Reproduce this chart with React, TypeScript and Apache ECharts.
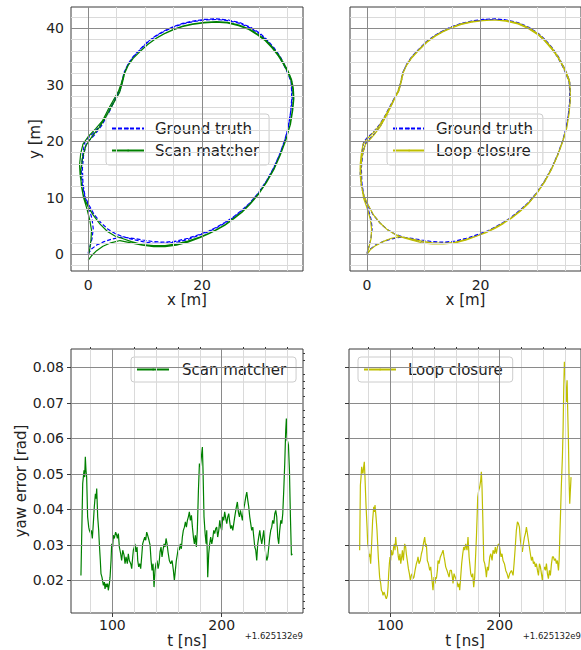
import React, { useEffect, useRef } from "react";
import * as echarts from "echarts";

const FONT = '"DejaVu Sans", sans-serif';

// ---- Trajectories [x (m), y (m)] ----
const groundTruthPath: [number, number][] = [
  [0, 0], [0.6, 0.9], [1.5, 1.6], [2.8, 2.2], [4.3, 2.7], [6.0, 3.0], [7.8, 2.8], [9.6, 2.5], [11.5, 2.2], [13.5, 2.1],
  [15.5, 2.3], [17.5, 2.8], [19.6, 3.5], [21.2, 4.1], [22.6, 4.8], [24.0, 5.6], [25.5, 6.6], [27.0, 7.8], [28.4, 9.1], [29.9, 10.9],
  [31.3, 13.0], [32.5, 15.2], [33.6, 17.7], [34.5, 20.2], [35.1, 22.5], [35.5, 25.0], [35.7, 27.2], [35.7, 29.0], [35.6, 30.5], [35.1, 31.9],
  [34.5, 33.2], [33.6, 34.9], [32.5, 36.5], [31.3, 37.9], [30.1, 39.0], [28.4, 40.1], [26.6, 40.9], [24.5, 41.4], [22.5, 41.6], [20.4, 41.5],
  [18.4, 41.2], [16.6, 40.8], [14.9, 40.2], [13.4, 39.5], [12.0, 38.7], [10.5, 37.6], [9.1, 36.2], [7.9, 34.9], [7.0, 33.6], [6.3, 32.2],
  [5.9, 30.3], [5.5, 29.0], [4.9, 27.8], [4.0, 26.1], [3.0, 24.2], [2.1, 22.8], [1.0, 21.5], [0.0, 20.6], [-0.6, 19.8], [-0.9, 18.0],
  [-1.1, 16.0], [-1.2, 14.2], [-1.0, 12.2], [-0.6, 10.3], [0.2, 8.6], [1.0, 7.1], [2.2, 5.6], [3.5, 4.4], [4.8, 3.6], [6.1, 3.1],
  [7.8, 2.6], [9.6, 2.2], [11.5, 1.9], [13.5, 1.9], [15.5, 2.1], [17.5, 2.6], [19.6, 3.4], [21.2, 4.0], [22.6, 4.7], [24.0, 5.5],
  [25.5, 6.5], [27.0, 7.7], [28.4, 9.0], [29.9, 10.8], [31.3, 12.9], [32.5, 15.1], [33.6, 17.6], [34.5, 20.1], [35.1, 22.4], [35.5, 24.9],
  [35.8, 27.2], [35.8, 29.0], [35.7, 30.6], [35.2, 32.0], [34.6, 33.3], [33.7, 35.0], [32.6, 36.6], [31.4, 38.0], [30.2, 39.1], [28.5, 40.2],
  [26.7, 41.0], [24.6, 41.5], [22.5, 41.7], [20.4, 41.6], [18.4, 41.3], [16.6, 40.9], [14.9, 40.3], [13.4, 39.6], [12.0, 38.8], [10.5, 37.7],
  [9.1, 36.3], [7.9, 35.0], [7.0, 33.7], [6.4, 32.3], [6.0, 30.5], [5.6, 29.0], [4.7, 27.3], [3.6, 25.0], [2.4, 22.8], [1.2, 21.2],
  [-0.3, 19.6], [-0.8, 17.5], [-1.0, 15.2], [-0.9, 12.5], [-0.5, 10.0], [0.2, 8.0], [0.7, 6.2], [0.9, 4.5], [0.7, 2.8], [0.3, 1.2], [0, 0.2],
];

const scanMatcherPath: [number, number][] = [
  [0, -1.1], [0.6, -0.3], [1.5, 0.6], [2.6, 1.4], [4.0, 2.0], [5.6, 2.4], [7.5, 2.0], [9.5, 1.6], [11.5, 1.3], [13.5, 1.3],
  [15.5, 1.6], [17.5, 2.1], [19.6, 2.9], [21.2, 3.6], [22.6, 4.3], [24.0, 5.1], [25.5, 6.2], [27.0, 7.4], [28.4, 8.8], [29.9, 10.6],
  [31.3, 12.7], [32.6, 15.0], [33.7, 17.5], [34.7, 20.2], [35.4, 22.8], [35.8, 25.3], [36.0, 27.5], [35.9, 29.3], [35.6, 30.8], [35.0, 32.3],
  [34.3, 33.6], [33.4, 35.1], [32.3, 36.5], [31.1, 37.8], [29.8, 38.8], [28.2, 39.8], [26.4, 40.5], [24.4, 41.0], [22.4, 41.1], [20.3, 41.0],
  [18.3, 40.7], [16.5, 40.3], [14.8, 39.7], [13.3, 39.0], [11.9, 38.2], [10.4, 37.1], [9.0, 35.8], [7.8, 34.6], [6.9, 33.3], [6.3, 31.9],
  [5.8, 30.2], [5.3, 28.8], [4.5, 27.4], [3.5, 25.6], [2.5, 23.6], [1.3, 22.2], [0.0, 20.8], [-0.9, 19.5], [-1.3, 17.8], [-1.5, 15.8],
  [-1.4, 14.0], [-1.1, 12.0], [-0.8, 10.2], [0.0, 8.4], [0.9, 6.9], [2.1, 5.3], [3.4, 4.0], [4.7, 3.2], [5.9, 2.8],
  [7.6, 2.2], [9.5, 1.7], [11.5, 1.5], [13.5, 1.5], [15.5, 1.8], [17.5, 2.3], [19.6, 3.0], [21.2, 3.7], [22.6, 4.4], [24.0, 5.2],
  [25.5, 6.3], [27.0, 7.5], [28.4, 8.9], [29.9, 10.7], [31.3, 12.8], [32.6, 15.1], [33.7, 17.6], [34.7, 20.3], [35.5, 23.0], [35.9, 25.5],
  [36.1, 27.6], [36.0, 29.4], [35.7, 30.9], [35.1, 32.4], [34.4, 33.7], [33.5, 35.2], [32.4, 36.6], [31.2, 37.9], [29.9, 38.9], [28.3, 39.9],
  [26.5, 40.6], [24.5, 41.1], [22.5, 41.2], [20.4, 41.1], [18.4, 40.8], [16.6, 40.4], [14.9, 39.8], [13.4, 39.1], [12.0, 38.3], [10.5, 37.2],
  [9.1, 35.9], [7.9, 34.7], [7.0, 33.4], [6.4, 32.0], [6.0, 30.3], [5.5, 28.6], [4.3, 26.5], [3.1, 24.3], [2.0, 22.5], [0.8, 21.0],
  [-0.4, 19.2], [-1.0, 17.0], [-1.3, 14.6], [-1.2, 12.2], [-0.8, 10.0], [-0.2, 8.0], [0.3, 6.0], [0.6, 4.2], [0.5, 2.5], [0.3, 1.0], [0.1, 0.0],
];

const loopClosurePath: [number, number][] = [
  [0, 0], [0.6, 0.8], [1.5, 1.5], [2.8, 2.2], [4.3, 2.8], [5.8, 3.1], [7.7, 2.7], [9.6, 2.3], [11.5, 2.0], [13.5, 1.9],
  [15.5, 2.1], [17.5, 2.6], [19.6, 3.3], [21.2, 4.0], [22.6, 4.7], [24.0, 5.5], [25.5, 6.5], [27.0, 7.7], [28.4, 9.0], [29.9, 10.8],
  [31.3, 12.9], [32.5, 15.1], [33.6, 17.6], [34.5, 20.1], [35.2, 22.5], [35.6, 25.0], [35.8, 27.2], [35.8, 29.0], [35.6, 30.6], [35.1, 32.0],
  [34.5, 33.3], [33.6, 34.9], [32.5, 36.4], [31.3, 37.8], [30.1, 38.9], [28.4, 40.0], [26.6, 40.8], [24.5, 41.3], [22.5, 41.5], [20.4, 41.4],
  [18.4, 41.1], [16.6, 40.7], [14.9, 40.1], [13.4, 39.4], [12.0, 38.6], [10.5, 37.5], [9.1, 36.1], [7.9, 34.8], [7.0, 33.5], [6.3, 32.1],
  [5.9, 30.3], [5.5, 29.0], [4.9, 27.7], [4.0, 26.0], [3.0, 24.1], [2.1, 22.7], [1.0, 21.4], [0.0, 20.4], [-0.7, 19.5], [-1.0, 17.8],
  [-1.2, 15.9], [-1.2, 14.0], [-1.0, 12.1], [-0.5, 10.2], [0.3, 8.5], [1.1, 7.0], [2.3, 5.5], [3.6, 4.3], [4.9, 3.5], [6.1, 3.0],
  [7.8, 2.5], [9.6, 2.0], [11.5, 1.8], [13.5, 1.8], [15.5, 2.0], [17.5, 2.5], [19.6, 3.3], [21.2, 3.9], [22.6, 4.6], [24.0, 5.4],
  [25.5, 6.4], [27.0, 7.6], [28.4, 8.9], [29.9, 10.7], [31.3, 12.8], [32.5, 15.0], [33.6, 17.5], [34.5, 20.0], [35.2, 22.4], [35.6, 24.9],
  [35.8, 27.2], [35.8, 29.0], [35.7, 30.6], [35.2, 32.0], [34.6, 33.3], [33.7, 34.9], [32.6, 36.5], [31.4, 37.9], [30.2, 39.0], [28.5, 40.1],
  [26.7, 40.9], [24.6, 41.4], [22.5, 41.5], [20.4, 41.4], [18.4, 41.2], [16.6, 40.8], [14.9, 40.2], [13.4, 39.5], [12.0, 38.7], [10.5, 37.6],
  [9.1, 36.2], [7.9, 34.9], [7.0, 33.6], [6.4, 32.2], [6.0, 30.4], [5.6, 28.9], [4.7, 27.2], [3.6, 24.9], [2.4, 22.7], [1.2, 21.1],
  [-0.3, 19.4], [-0.9, 17.3], [-1.1, 15.0], [-1.0, 12.4], [-0.6, 9.9], [0.1, 7.9], [0.6, 6.1], [0.8, 4.4], [0.7, 2.7], [0.3, 1.1], [0, 0.1],
];

// ---- Yaw error over time [t - 1.625132e9 (ns), error (rad)] ----
const scanMatcherYaw: [number, number][] = [
  [71.3, 0.0214], [72.9, 0.0473], [74.1, 0.051], [74.7, 0.0491], [75.3, 0.0548], [75.9, 0.051], [76.5, 0.0491], [77.4, 0.0379], [78.4, 0.035], [79.0, 0.0341],
  [80.2, 0.0332], [80.8, 0.0341], [81.7, 0.0318], [82.6, 0.036], [83.5, 0.0407], [84.5, 0.0444], [85.1, 0.043], [85.7, 0.0459], [86.6, 0.0379], [87.5, 0.0341],
  [88.1, 0.0303], [89.0, 0.0256], [89.6, 0.0219], [90.5, 0.0209], [91.8, 0.0186], [92.7, 0.0195], [93.3, 0.0176], [94.2, 0.0191], [94.8, 0.0181], [95.7, 0.0191],
  [96.3, 0.0172], [97.3, 0.0191], [97.9, 0.0209], [98.8, 0.0256], [99.4, 0.0303], [100.3, 0.0294], [100.9, 0.0327], [101.8, 0.0318], [103.0, 0.0336], [104.0, 0.0327],
  [104.6, 0.0318], [105.5, 0.0332], [106.4, 0.0294], [107.6, 0.0275], [108.5, 0.0256], [109.5, 0.0285], [110.7, 0.0271], [111.6, 0.0247], [112.5, 0.0266], [113.7, 0.0247],
  [114.6, 0.0275], [115.5, 0.0256], [116.8, 0.0247], [117.7, 0.0233], [118.6, 0.0266], [119.2, 0.0285], [120.1, 0.0294], [120.7, 0.0303], [121.6, 0.028], [122.6, 0.0294],
  [123.2, 0.0256], [124.1, 0.0238], [125.0, 0.0247], [125.9, 0.0233], [126.8, 0.0266], [127.7, 0.0303], [128.7, 0.0313], [129.6, 0.0322], [130.5, 0.0313], [131.4, 0.0336],
  [132.3, 0.0327], [133.5, 0.0313], [134.5, 0.0299], [135.4, 0.0256], [136.3, 0.0228], [137.2, 0.0247], [138.1, 0.0181], [139.0, 0.0228], [139.9, 0.0247], [140.9, 0.0256],
  [141.8, 0.0233], [142.7, 0.0247], [143.6, 0.028], [144.5, 0.0294], [145.4, 0.0266], [146.3, 0.0285], [147.3, 0.0303], [148.2, 0.0294], [149.1, 0.0318], [150.0, 0.0303],
  [150.9, 0.028], [152.1, 0.0256], [153.4, 0.0247], [154.6, 0.0256], [155.8, 0.0228], [156.7, 0.02], [157.6, 0.0228], [158.5, 0.0256], [159.5, 0.0275], [160.4, 0.0294],
  [161.3, 0.0285], [162.2, 0.0303], [163.1, 0.0289], [164.0, 0.0322], [164.9, 0.0341], [165.9, 0.035], [166.8, 0.0365], [167.7, 0.035], [168.6, 0.0369], [169.5, 0.0379],
  [170.4, 0.0393], [171.3, 0.0369], [172.3, 0.0383], [173.2, 0.035], [174.1, 0.0322], [175.0, 0.0303], [175.9, 0.0327], [176.8, 0.0294], [177.7, 0.0341], [178.7, 0.0454],
  [179.6, 0.0529], [180.5, 0.052], [181.4, 0.0548], [182.3, 0.0576], [182.9, 0.051], [183.8, 0.0379], [184.8, 0.0332], [185.7, 0.0303], [186.3, 0.0341], [187.2, 0.0209],
  [188.1, 0.0275], [189.0, 0.0303], [189.9, 0.0322], [190.9, 0.0303], [191.8, 0.0318], [192.7, 0.0341], [193.6, 0.0332], [194.5, 0.0346], [195.4, 0.035], [196.3, 0.0322],
  [197.3, 0.0341], [198.2, 0.0369], [199.1, 0.035], [200.0, 0.0341], [200.9, 0.0379], [201.8, 0.0369], [202.7, 0.0393], [203.7, 0.0374], [204.6, 0.036], [205.5, 0.0379],
  [206.4, 0.0388], [207.3, 0.0365], [208.2, 0.0346], [209.1, 0.0355], [210.1, 0.0341], [211.0, 0.036], [211.9, 0.0379], [213.1, 0.0402], [214.3, 0.0421], [215.2, 0.0393],
  [216.2, 0.0379], [217.1, 0.0397], [218.0, 0.0383], [218.9, 0.0369], [219.8, 0.0397], [221.0, 0.0416], [222.0, 0.0435], [222.9, 0.0449], [223.8, 0.0426], [224.7, 0.0407],
  [225.6, 0.0379], [226.5, 0.036], [227.4, 0.0341], [228.4, 0.035], [229.3, 0.0322], [230.2, 0.0294], [231.1, 0.0285], [232.0, 0.0256], [232.9, 0.0303], [233.8, 0.0322],
  [234.8, 0.0341], [235.7, 0.0318], [236.6, 0.0303], [237.5, 0.0322], [238.4, 0.0341], [239.3, 0.0303], [240.2, 0.0275], [241.2, 0.0256], [242.1, 0.0266], [243.0, 0.0294],
  [243.9, 0.0322], [244.8, 0.0341], [245.7, 0.035], [246.6, 0.0369], [247.6, 0.036], [248.5, 0.0388], [249.4, 0.0397], [250.3, 0.0379], [251.2, 0.0322], [252.1, 0.0303],
  [253.0, 0.0341], [254.0, 0.0369], [254.9, 0.036], [255.8, 0.0388], [256.7, 0.0454], [257.6, 0.0529], [258.5, 0.0623], [259.1, 0.0656], [259.8, 0.0595], [260.4, 0.059],
  [261.0, 0.0581], [261.9, 0.051], [262.8, 0.0379], [263.7, 0.0271], [264.6, 0.0275],
];

const loopClosureYaw: [number, number][] = [
  [71.95, 0.0285], [72.6, 0.0468], [73.2, 0.0491], [73.8, 0.052], [74.4, 0.0506], [75.0, 0.0501], [75.6, 0.052], [76.2, 0.0534], [76.8, 0.0491], [77.7, 0.0416],
  [78.7, 0.035], [79.3, 0.0303], [79.9, 0.0294], [80.5, 0.0266], [81.1, 0.0275], [82.0, 0.0247], [82.9, 0.0303], [83.8, 0.0369], [84.8, 0.0407], [85.4, 0.0393],
  [86.0, 0.0412], [86.9, 0.0379], [87.8, 0.0341], [88.4, 0.0303], [89.0, 0.0266], [90.2, 0.0209], [91.2, 0.0191], [91.8, 0.0172], [92.7, 0.0167], [93.3, 0.0158],
  [94.2, 0.0167], [94.8, 0.0162], [95.7, 0.0153], [96.3, 0.0148], [97.3, 0.0158], [97.9, 0.0181], [98.5, 0.0219], [99.1, 0.0247], [99.7, 0.0266], [100.3, 0.0256],
  [100.9, 0.0285], [101.8, 0.0271], [102.4, 0.0275], [103.0, 0.0294], [103.7, 0.0303], [104.3, 0.0285], [104.9, 0.0322], [105.5, 0.0299], [106.4, 0.0294], [107.3, 0.0266],
  [107.9, 0.0256], [108.8, 0.0275], [109.5, 0.0247], [110.4, 0.0266], [111.0, 0.0285], [111.9, 0.0256], [113.1, 0.0303], [114.0, 0.0294], [114.6, 0.0275], [115.5, 0.0256],
  [116.5, 0.0233], [117.4, 0.0219], [118.3, 0.02], [119.2, 0.0214], [120.1, 0.0219], [120.7, 0.0205], [121.6, 0.0209], [122.6, 0.0228], [123.8, 0.0247], [124.7, 0.0256],
  [125.3, 0.0266], [126.2, 0.0247], [127.4, 0.0256], [128.4, 0.0275], [129.3, 0.0285], [130.2, 0.0303], [131.4, 0.0322], [132.3, 0.0294], [132.9, 0.0303], [133.8, 0.0256],
  [134.8, 0.0247], [136.0, 0.0228], [136.9, 0.0238], [137.5, 0.0219], [138.4, 0.0191], [139.0, 0.0172], [139.9, 0.0209], [140.9, 0.0191], [141.5, 0.0209], [142.1, 0.0205],
  [143.0, 0.0228], [143.6, 0.0256], [144.5, 0.0247], [145.7, 0.0266], [147.0, 0.0275], [148.2, 0.0285], [149.1, 0.0266], [149.7, 0.0256], [150.6, 0.0238], [151.8, 0.0228],
  [152.7, 0.0219], [153.7, 0.0209], [154.6, 0.0228], [155.8, 0.0228], [156.7, 0.0209], [157.3, 0.0191], [158.2, 0.0219], [158.8, 0.0219], [159.8, 0.0205], [160.4, 0.02],
  [161.3, 0.0191], [161.9, 0.0181], [162.8, 0.0191], [163.4, 0.0172], [164.3, 0.0209], [165.2, 0.0247], [166.2, 0.0275], [167.1, 0.0294], [168.0, 0.0285], [168.9, 0.0303],
  [170.1, 0.0285], [171.0, 0.0322], [172.0, 0.0266], [172.6, 0.0247], [173.5, 0.0219], [174.4, 0.0209], [175.3, 0.0219], [176.2, 0.0181], [177.1, 0.0209], [178.7, 0.0322],
  [179.9, 0.0435], [180.8, 0.0454], [181.7, 0.0463], [182.6, 0.0482], [183.2, 0.0506], [183.8, 0.0463], [184.5, 0.0379], [185.4, 0.0256], [186.3, 0.0247], [187.2, 0.0228],
  [187.8, 0.0209], [188.7, 0.0238], [189.6, 0.0228], [190.9, 0.0266], [191.8, 0.0275], [193.0, 0.0256], [193.9, 0.0285], [195.1, 0.0275], [196.0, 0.0294], [196.9, 0.0275],
  [198.2, 0.0299], [199.4, 0.0303], [200.3, 0.0285], [201.2, 0.0266], [202.1, 0.0275], [203.0, 0.0256], [204.3, 0.0247], [205.5, 0.0228], [206.7, 0.0219], [207.9, 0.0205],
  [209.1, 0.0219], [210.7, 0.0228], [212.2, 0.0214], [213.1, 0.0247], [214.0, 0.0285], [214.6, 0.0313], [215.2, 0.0341], [216.2, 0.0365], [217.1, 0.036], [218.0, 0.035],
  [218.9, 0.0313], [219.8, 0.0294], [220.7, 0.028], [221.6, 0.0303], [222.6, 0.0322], [223.5, 0.0332], [224.4, 0.035], [225.3, 0.0332], [226.2, 0.0313], [227.1, 0.0294],
  [228.0, 0.0275], [229.0, 0.0256], [229.9, 0.0266], [230.8, 0.0247], [231.7, 0.0252], [232.6, 0.0238], [233.5, 0.0247], [234.5, 0.0228], [235.4, 0.0214], [236.3, 0.0247],
  [237.2, 0.0238], [238.1, 0.0219], [239.0, 0.02], [239.9, 0.0228], [240.9, 0.0238], [241.8, 0.0228], [242.7, 0.0247], [243.6, 0.0219], [244.5, 0.0205], [245.4, 0.0228],
  [246.3, 0.0214], [247.3, 0.0247], [248.2, 0.0266], [249.1, 0.0266], [250.0, 0.0256], [250.9, 0.0261], [251.8, 0.0247], [252.7, 0.0256], [253.7, 0.0228], [254.3, 0.0256],
  [254.9, 0.0322], [255.5, 0.0379], [256.4, 0.0473], [257.3, 0.0548], [257.9, 0.0623], [258.5, 0.0736], [259.1, 0.0816], [259.8, 0.0792], [260.4, 0.0736], [261.0, 0.0703],
  [261.6, 0.0764], [262.2, 0.067], [262.8, 0.0595], [263.4, 0.0482], [264.0, 0.0416], [264.6, 0.0454], [265.2, 0.0491],
];

// ---- Ticks ----
const posMajorX = [0, 20];
const posMinorX = [5, 10, 15, 25, 30, 35];
const posMajorY = [0, 10, 20, 30, 40];
const posMinorY = [-2, 2, 4, 6, 8, 12, 14, 16, 18, 22, 24, 26, 28, 32, 34, 36, 38, 42];
const timeMajor = [100, 200];
const timeMinor = [80, 120, 140, 160, 180, 220, 240, 260];
const errMajor = [0.02, 0.03, 0.04, 0.05, 0.06, 0.07, 0.08];
const errMinor = [
  0.012, 0.014, 0.016, 0.018, 0.022, 0.024, 0.026, 0.028, 0.032, 0.034, 0.036, 0.038,
  0.042, 0.044, 0.046, 0.048, 0.052, 0.054, 0.056, 0.058, 0.062, 0.064, 0.066, 0.068,
  0.072, 0.074, 0.076, 0.078, 0.082, 0.084,
];
const timeOffsetLabel = "+1.625132e9";

const TEXT = "#222";
const AXIS = "#3a3a3a";
const MAJOR_GRID = "#8a8a8a";
const MINOR_GRID = "#dadada";
const BLUE = "#0000ff";
const GREEN = "#008000";
const YELLOW = "#bfbf00";

const seriesStyles: Record<string, any> = {
  "Ground truth": { color: BLUE, width: 1.2, type: [4, 2] },
  "Scan matcher": { color: GREEN, width: 1.2, type: "solid" },
  "Loop closure": { color: YELLOW, width: 1.2, type: "solid" },
};

const grids = [
  { left: 71, top: 7, width: 232, height: 264 },
  { left: 350, top: 7, width: 231, height: 264 },
  { left: 71, top: 349, width: 232, height: 264 },
  { left: 349, top: 349, width: 232, height: 264 },
];

const posRangeX = [-3.0, 37.7];
const posRangeY = [-3.0, 43.8];
const timeRange = [62.2, 274.3];
const errRange = [0.0108, 0.0852];

function axisPair(
  gridIndex: number,
  range: number[],
  major: number[],
  minor: number[],
  opts: { showLabels: boolean; name?: string; nameGap?: number; margin: number; fmt?: (v: number) => string }
) {
  const main: any = {
    type: "value",
    gridIndex,
    min: range[0],
    max: range[1],
    axisLine: { show: false },
    splitLine: { show: false },
    axisTick: { show: true, length: 4, customValues: major, lineStyle: { color: AXIS, width: 1 } },
    axisLabel: {
      show: opts.showLabels,
      customValues: major,
      margin: opts.margin,
      fontSize: 14,
      color: TEXT,
      fontFamily: FONT,
      formatter: opts.fmt,
    },
  };
  if (opts.name) {
    main.name = opts.name;
    main.nameLocation = "middle";
    main.nameGap = opts.nameGap;
    main.nameTextStyle = { fontSize: 15, color: TEXT, fontFamily: FONT };
  }
  const minorAxis: any = {
    type: "value",
    gridIndex,
    min: range[0],
    max: range[1],
    axisLine: { show: false },
    splitLine: { show: false },
    axisTick: { show: true, length: 2, customValues: minor, lineStyle: { color: AXIS, width: 1 } },
    axisLabel: { show: false },
  };
  return [main, minorAxis];
}

function gridLineSeries(
  axisIndex: number,
  xMajor: number[],
  xMinor: number[],
  yMajor: number[],
  yMinor: number[],
  anchor: [number, number]
) {
  const data: any[] = [];
  xMinor.forEach((v) => data.push({ xAxis: v, lineStyle: { color: MINOR_GRID, width: 1, type: "solid" } }));
  yMinor.forEach((v) => data.push({ yAxis: v, lineStyle: { color: MINOR_GRID, width: 1, type: "solid" } }));
  xMajor.forEach((v) => data.push({ xAxis: v, lineStyle: { color: MAJOR_GRID, width: 1, type: "solid" } }));
  yMajor.forEach((v) => data.push({ yAxis: v, lineStyle: { color: MAJOR_GRID, width: 1, type: "solid" } }));
  return {
    type: "line",
    name: "grid" + axisIndex,
    xAxisIndex: axisIndex,
    yAxisIndex: axisIndex,
    data: [anchor],
    symbol: "none",
    lineStyle: { width: 0 },
    silent: true,
    z: 1,
    markLine: {
      silent: true,
      symbol: ["none", "none"],
      label: { show: false },
      emphasis: { disabled: true },
      data,
    },
  };
}

function legendBox(names: string[], left: number, top: number, textPadLeft: number, padTop: number) {
  return {
    data: names,
    orient: "vertical",
    left,
    top,
    itemWidth: 32,
    itemHeight: 2,
    itemGap: 7,
    padding: [padTop, 10, padTop, 5],
    backgroundColor: "rgba(255,255,255,0.8)",
    borderColor: "#cccccc",
    borderWidth: 1,
    borderRadius: 3,
    selectedMode: false,
    textStyle: { fontSize: 15, color: TEXT, fontFamily: FONT, padding: [0, 0, 0, textPadLeft] },
  };
}

export default function App() {
  const ref = useRef<HTMLDivElement>(null);

  useEffect(() => {
    if (!ref.current) return;
    const chart = echarts.init(ref.current, null, { renderer: "svg" });

    const fmt2 = (v: number) => v.toFixed(2);
    const xAxis = [
      ...axisPair(0, posRangeX, posMajorX, posMinorX, { showLabels: true, name: "x [m]", nameGap: 20, margin: 7 }),
      ...axisPair(1, posRangeX, posMajorX, posMinorX, { showLabels: true, name: "x [m]", nameGap: 20, margin: 7 }),
      ...axisPair(2, timeRange, timeMajor, timeMinor, { showLabels: true, name: "t [ns]", nameGap: 20, margin: 5 }),
      ...axisPair(3, timeRange, timeMajor, timeMinor, { showLabels: true, name: "t [ns]", nameGap: 20, margin: 5 }),
    ];
    const yAxis = [
      ...axisPair(0, posRangeY, posMajorY, posMinorY, { showLabels: true, name: "y [m]", nameGap: 27, margin: 7 }),
      ...axisPair(1, posRangeY, posMajorY, posMinorY, { showLabels: false, margin: 7 }),
      ...axisPair(2, errRange, errMajor, errMinor, { showLabels: true, name: "yaw error [rad]", nameGap: 41, margin: 7, fmt: fmt2 }),
      ...axisPair(3, errRange, errMajor, errMinor, { showLabels: false, margin: 7 }),
    ];

    const lineBase = { type: "line", symbol: "none", showSymbol: false, silent: true };
    const mk = (name: string, axisIndex: number, data: [number, number][], z: number) => ({
      ...lineBase,
      name,
      xAxisIndex: axisIndex,
      yAxisIndex: axisIndex,
      data,
      z,
      lineStyle: { ...seriesStyles[name] },
      itemStyle: { color: seriesStyles[name].color },
    });

    const option: any = {
      animation: false,
      backgroundColor: "#ffffff",
      textStyle: { fontFamily: FONT },
      grid: grids.map((g) => ({
        ...g,
        show: true,
        borderColor: AXIS,
        borderWidth: 1,
        backgroundColor: "transparent",
        containLabel: false,
        outerBoundsMode: "none",
      })),
      xAxis,
      yAxis,
      legend: [
        legendBox(["Ground truth", "Scan matcher"], 106, 114, 6, 7),
        legendBox(["Ground truth", "Loop closure"], 387, 114, 6, 7),
        legendBox(["Scan matcher"], 131, 357, 8, 5),
        legendBox(["Loop closure"], 358, 357, 7, 5),
      ],
      series: [
        gridLineSeries(0, posMajorX, posMinorX, posMajorY, posMinorY, [0, 0]),
        gridLineSeries(2, posMajorX, posMinorX, posMajorY, posMinorY, [0, 0]),
        gridLineSeries(4, timeMajor, timeMinor, errMajor, errMinor, [100, 0.03]),
        gridLineSeries(6, timeMajor, timeMinor, errMajor, errMinor, [100, 0.03]),
        mk("Ground truth", 0, groundTruthPath, 3),
        mk("Scan matcher", 0, scanMatcherPath, 4),
        mk("Ground truth", 2, groundTruthPath, 3),
        mk("Loop closure", 2, loopClosurePath, 4),
        mk("Scan matcher", 4, scanMatcherYaw, 4),
        mk("Loop closure", 6, loopClosureYaw, 4),
      ],
      graphic: [
        {
          type: "text",
          x: 303,
          y: 636,
          style: { text: timeOffsetLabel, fontSize: 8.5, fill: TEXT, fontFamily: FONT, align: "right", verticalAlign: "middle" },
        },
        {
          type: "text",
          x: 581,
          y: 636,
          style: { text: timeOffsetLabel, fontSize: 8.5, fill: TEXT, fontFamily: FONT, align: "right", verticalAlign: "middle" },
        },
      ],
    };

    chart.setOption(option);
    return () => chart.dispose();
  }, []);

  return (
    <div
      ref={ref}
      style={{ position: "fixed", left: 0, top: 0, width: 581, height: 650, background: "#fff" }}
    />
  );
}
